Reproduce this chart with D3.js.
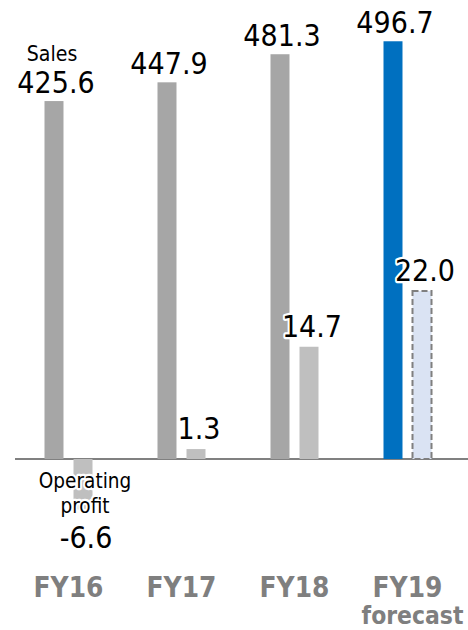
<!DOCTYPE html>
<html><head><meta charset="utf-8">
<script src="https://cdn.jsdelivr.net/npm/d3@7"></script>
<style>
html,body{margin:0;padding:0;background:#fff;}
text{font-family:"DejaVu Sans",Verdana,sans-serif;}
</style></head>
<body><svg id="c" width="468" height="630"></svg>
<script>
const years = ["FY16", "FY17", "FY18", "FY19"];
const yearSub = ["", "", "", "forecast"];
const sales = [425.6, 447.9, 481.3, 496.7];
const profit = [-6.6, 1.3, 14.7, 22.0];
const salesLabels = ["425.6", "447.9", "481.3", "496.7"];
const profitLabels = ["-6.6", "1.3", "14.7", "22.0"];
const forecastIndex = 3;

const svg = d3.select("#c");
const base = 459;
const x = d3.scaleBand().domain(years).range([12, 464]);
const inner = d3.scaleBand().domain(["sales", "profit"]).range([-24, 24]).paddingInner(0.345);
const yS = d3.scaleLinear().domain([0, 500]).range([base, base - 420.5]);
const yP = d3.scaleLinear().domain([0, 22]).range([base, base - 168]);
const cx = d => x(d) + x.bandwidth() / 2;
const stretch = 1.1;

// place text at (x, y) with a slight vertical stretch
const put = (sel, tx, ty) => sel.attr("transform", `translate(${tx},${ty}) scale(1,${stretch})`);

// baseline
svg.append("line").attr("x1", 15).attr("x2", 468).attr("y1", base).attr("y2", base)
  .attr("stroke", "#808080").attr("stroke-width", 2);

// sales bars
svg.selectAll("rect.s").data(years).join("rect").attr("class", "s")
  .attr("x", d => cx(d) + inner("sales"))
  .attr("width", inner.bandwidth())
  .attr("y", (d, i) => yS(sales[i]))
  .attr("height", (d, i) => base - yS(sales[i]))
  .attr("fill", (d, i) => i === forecastIndex ? "#0070c0" : "#a6a6a6");

// profit bars
svg.selectAll("rect.p").data(years).join("rect").attr("class", "p")
  .attr("x", d => cx(d) + inner("profit"))
  .attr("width", inner.bandwidth())
  .attr("y", (d, i) => Math.min(yP(profit[i]), base))
  .attr("height", (d, i) => Math.abs(yP(profit[i]) - base))
  .attr("fill", (d, i) => i === forecastIndex ? "#dae3f3" : "#bfbfbf")
  .attr("stroke", (d, i) => i === forecastIndex ? "#7f7f7f" : "none")
  .attr("stroke-width", 2)
  .attr("stroke-dasharray", "6,3");

const halo = sel => sel.attr("stroke", "#fff").attr("stroke-width", 4)
  .attr("stroke-linejoin", "round").attr("paint-order", "stroke");

// sales value labels
years.forEach((d, i) => {
  svg.append("text")
    .call(put, cx(d) + inner("sales") + inner.bandwidth() / 2 + 2, yS(sales[i]) - 8)
    .attr("text-anchor", "middle").attr("font-size", 27).attr("fill", "#000")
    .text(salesLabels[i]);
});

svg.append("text")
  .call(put, cx(years[0]) + inner("sales") + inner.bandwidth() / 2 - 2, 61)
  .attr("text-anchor", "middle").attr("font-size", 19).attr("fill", "#000")
  .text("Sales");

// profit value labels
profit.forEach((v, i) => {
  const px = cx(years[i]) + inner("profit") + inner.bandwidth() / 2;
  if (v >= 0) {
    svg.append("text").call(put, px + 3, yP(v) - 10)
      .attr("text-anchor", "middle").attr("font-size", 27).attr("fill", "#000")
      .call(halo).text(profitLabels[i]);
  } else {
    svg.append("text").call(put, px + 2, 488)
      .attr("text-anchor", "middle").attr("font-size", 18.5).attr("fill", "#000")
      .call(halo).text("Operating");
    svg.append("text").call(put, px + 2, 513)
      .attr("text-anchor", "middle").attr("font-size", 18.5).attr("fill", "#000")
      .call(halo).text("profit");
    svg.append("text").call(put, px + 3, 548)
      .attr("text-anchor", "middle").attr("font-size", 27).attr("fill", "#000")
      .call(halo).text(profitLabels[i]);
  }
});

// category labels
years.forEach((d, i) => {
  svg.append("text").call(put, cx(d), 597)
    .attr("text-anchor", "middle").attr("font-size", 25).attr("font-weight", "bold")
    .attr("fill", "#7f7f7f").text(d);
  if (yearSub[i]) {
    svg.append("text").call(put, cx(d) + 5, 624)
      .attr("text-anchor", "middle").attr("font-size", 22).attr("font-weight", "bold")
      .attr("fill", "#7f7f7f").text(yearSub[i]);
  }
});
</script></body></html>
